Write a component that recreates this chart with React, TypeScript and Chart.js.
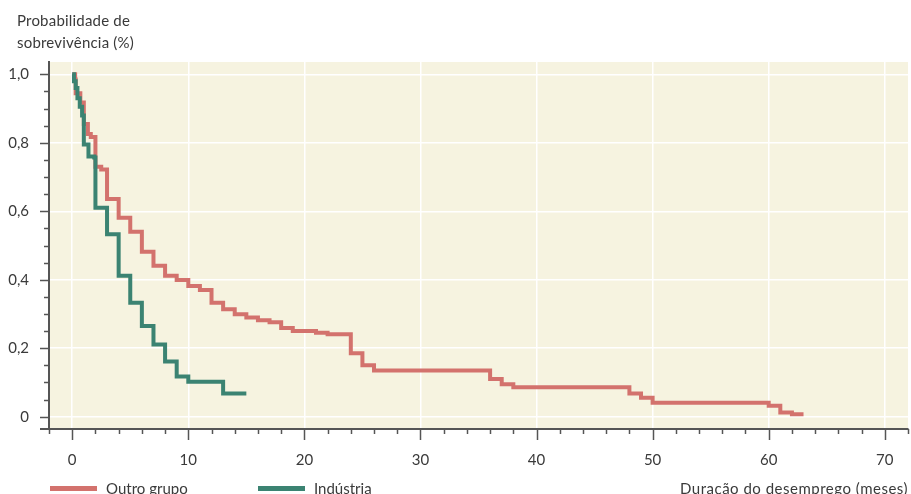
import React, { useEffect, useRef } from 'react';
import { Chart, registerables } from 'chart.js';

Chart.register(...registerables);

// Kaplan–Meier style survival curves (months, probability)
const redTimes = [0, 0.25, 0.3, 0.7, 1.0, 1.35, 1.6, 2.0, 2.5, 3, 4, 5, 6, 7, 8, 9, 10, 11, 12, 13, 14, 15, 16, 17, 18, 19, 21, 22, 24, 25, 26, 36, 37, 38, 48, 49, 50, 60, 61, 62, 63];
const redSurvival = [1.0, 0.985, 0.945, 0.918, 0.855, 0.826, 0.817, 0.73, 0.722, 0.636, 0.581, 0.54, 0.482, 0.441, 0.412, 0.399, 0.382, 0.37, 0.333, 0.314, 0.299, 0.29, 0.282, 0.276, 0.259, 0.25, 0.245, 0.241, 0.185, 0.15, 0.135, 0.11, 0.095, 0.086, 0.068, 0.055, 0.041, 0.032, 0.012, 0.007, 0.007];

const greenTimes = [0, 0.15, 0.3, 0.45, 0.65, 0.85, 1.0, 1.4, 1.9, 2.0, 3, 4, 5, 6, 7, 8, 9, 10, 13, 15];
const greenSurvival = [1.0, 0.98, 0.96, 0.93, 0.905, 0.88, 0.795, 0.76, 0.757, 0.61, 0.533, 0.412, 0.333, 0.265, 0.211, 0.161, 0.117, 0.102, 0.068, 0.068];

const seriesNames = ['Outro grupo', 'Indústria'];
const seriesColors = ['#d3726d', '#3b8372'];

const xMajorTicks = [0, 10, 20, 30, 40, 50, 60, 70];
const xTickLabels = ['0', '10', '20', '30', '40', '50', '60', '70'];
const yMajorTicks = [0, 0.2, 0.4, 0.6, 0.8, 1.0];
const yTickLabels = ['0', '0,2', '0,4', '0,6', '0,8', '1,0'];

const yAxisTitle = ['Probabilidade de', 'sobrevivência (%)'];
const xAxisTitle = 'Duração do desemprego (meses)';

const FONT = 'Lato, "Open Sans", sans-serif';
const TEXT = '#3a3a3a';
const AXIS = '#555555';
const BG = '#f6f3e0';

const bgPlugin = {
  id: 'plotBg',
  beforeDraw(chart: any) {
    const { ctx, chartArea } = chart;
    ctx.save();
    ctx.fillStyle = BG;
    ctx.fillRect(chartArea.left, chartArea.top, chartArea.right - chartArea.left, chartArea.bottom - chartArea.top);
    ctx.restore();
  },
};

const ticksPlugin = {
  id: 'axisTicks',
  afterDraw(chart: any) {
    const { ctx, chartArea, scales } = chart;
    const xs = scales.x;
    const ys = scales.y;
    ctx.save();
    ctx.strokeStyle = AXIS;
    ctx.lineWidth = 1.5;
    for (let k = -1; k <= 36; k++) {
      const v = k * 2;
      const px = Math.round(xs.getPixelForValue(v)) + 0.5;
      const major = v % 10 === 0;
      ctx.beginPath();
      ctx.moveTo(px, chartArea.bottom);
      ctx.lineTo(px, chartArea.bottom + (major ? 11 : 5));
      ctx.stroke();
    }
    for (let k = 0; k <= 20; k++) {
      const v = k * 0.05;
      const py = Math.round(ys.getPixelForValue(v)) + 0.5;
      const major = k % 4 === 0;
      ctx.beginPath();
      ctx.moveTo(chartArea.left - (major ? 9 : 5), py);
      ctx.lineTo(chartArea.left, py);
      ctx.stroke();
    }
    ctx.lineWidth = 2;
    ctx.beginPath();
    ctx.moveTo(chartArea.left - 9, chartArea.bottom);
    ctx.lineTo(chartArea.left, chartArea.bottom);
    ctx.stroke();
    ctx.restore();
  },
};

export default function App() {
  const ref = useRef<HTMLCanvasElement | null>(null);

  useEffect(() => {
    if (!ref.current) return;
    const chart = new Chart(ref.current, {
      type: 'line',
      data: {
        datasets: [
          {
            label: seriesNames[0],
            data: redTimes.map((t, i) => ({ x: t, y: redSurvival[i] })),
            borderColor: seriesColors[0],
            borderWidth: 4,
            stepped: 'before',
            pointRadius: 0,
            fill: false,
            borderJoinStyle: 'miter',
            order: 1,
          },
          {
            label: seriesNames[1],
            data: greenTimes.map((t, i) => ({ x: t, y: greenSurvival[i] })),
            borderColor: seriesColors[1],
            borderWidth: 4,
            stepped: 'before',
            pointRadius: 0,
            fill: false,
            borderJoinStyle: 'miter',
            order: 0,
          },
        ],
      },
      options: {
        animation: false,
        responsive: false,
        maintainAspectRatio: false,
        layout: { padding: { top: 62, right: 3, left: 0, bottom: 0 } },
        plugins: { legend: { display: false }, tooltip: { enabled: false } },
        scales: {
          x: {
            type: 'linear',
            min: -2,
            max: 72,
            afterBuildTicks: (s: any) => {
              s.ticks = xMajorTicks.map((v) => ({ value: v }));
            },
            afterFit: (s: any) => {
              s.height = 65;
              s.paddingLeft = 0;
              s.paddingRight = 0;
            },
            grid: { color: '#ffffff', lineWidth: 1.5, drawTicks: false },
            border: { color: AXIS, width: 2 },
            ticks: {
              padding: 22,
              color: TEXT,
              font: { family: FONT, size: 15 },
              maxRotation: 0,
              callback: (_v: any, i: number) => xTickLabels[i],
            },
          },
          y: {
            type: 'linear',
            min: -0.036,
            max: 1.036,
            afterBuildTicks: (s: any) => {
              s.ticks = yMajorTicks.map((v) => ({ value: v }));
            },
            afterFit: (s: any) => {
              s.width = 49;
              s.paddingTop = 0;
              s.paddingBottom = 0;
            },
            grid: { color: '#ffffff', lineWidth: 1.5, drawTicks: false },
            border: { color: AXIS, width: 2 },
            ticks: {
              padding: 20,
              color: TEXT,
              font: { family: FONT, size: 15 },
              callback: (_v: any, i: number) => yTickLabels[i],
            },
          },
        },
      },
      plugins: [bgPlugin, ticksPlugin],
    } as any);
    return () => chart.destroy();
  }, []);

  return (
    <div
      style={{
        position: 'fixed',
        left: 0,
        top: 0,
        width: 911,
        height: 494,
        overflow: 'hidden',
        background: '#ffffff',
        fontFamily: FONT,
        color: TEXT,
      }}
    >
      <canvas ref={ref} width={911} height={494} style={{ display: 'block', position: 'absolute', left: 0, top: 0 }} />
      <div style={{ position: 'absolute', left: 17, top: 9, fontSize: 15, lineHeight: '22px', whiteSpace: 'nowrap', letterSpacing: 0.2 }}>
        {yAxisTitle.map((l) => (
          <div key={l}>{l}</div>
        ))}
      </div>
      <div style={{ position: 'absolute', left: 50, top: 486, width: 47, height: 5, background: seriesColors[0] }} />
      <div style={{ position: 'absolute', left: 106, top: 479, fontSize: 15, lineHeight: '18px', whiteSpace: 'nowrap' }}>{seriesNames[0]}</div>
      <div style={{ position: 'absolute', left: 258, top: 486, width: 47, height: 5, background: seriesColors[1] }} />
      <div style={{ position: 'absolute', left: 314, top: 479, fontSize: 15, lineHeight: '18px', whiteSpace: 'nowrap' }}>{seriesNames[1]}</div>
      <div style={{ position: 'absolute', right: 3, top: 479, fontSize: 15, lineHeight: '18px', whiteSpace: 'nowrap', letterSpacing: 0.5 }}>{xAxisTitle}</div>
    </div>
  );
}
